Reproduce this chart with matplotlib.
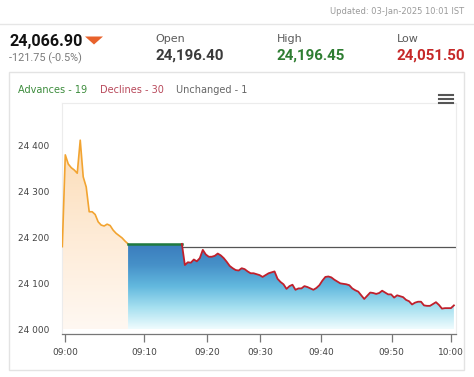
import numpy as np
import matplotlib
matplotlib.use("Agg")
import matplotlib.pyplot as plt
from matplotlib.colors import LinearSegmentedColormap
from matplotlib.patches import PathPatch, Rectangle, Polygon
from matplotlib.lines import Line2D

# ---- data ----
# pre-open session (sample index -1 .. 21)
pre_open = [24180, 24380, 24360, 24352, 24347, 24340, 24412, 24332, 24310, 24256,
            24256, 24250, 24234, 24227, 24225, 24229, 24226, 24216, 24209, 24204,
            24199, 24192, 24186]
pre_start = -1
# flat pre-open close (index 21 .. 39)
flat_idx = [21, 39]
flat_val = [24186, 24186]
# live session (index 39 .. 130)
live = [24186, 24140, 24146, 24145, 24152, 24148, 24155, 24173, 24163, 24158,
        24158, 24160, 24165, 24161, 24155, 24147, 24138, 24133, 24129, 24128,
        24133, 24131, 24126, 24122, 24122, 24120, 24118, 24114, 24118, 24122,
        24124, 24126, 24110, 24103, 24098, 24088, 24094, 24097, 24086, 24089,
        24089, 24094, 24092, 24089, 24086, 24090, 24096, 24106, 24114, 24115,
        24113, 24108, 24104, 24100, 24099, 24098, 24096, 24089, 24085, 24082,
        24074, 24066, 24073, 24080, 24079, 24077, 24079, 24084, 24080, 24076,
        24076, 24069, 24074, 24072, 24070, 24064, 24061, 24054, 24058, 24060,
        24060, 24052, 24051, 24051, 24055, 24059, 24053, 24045, 24046, 24046,
        24046, 24052]
live_start = 39
prev_close_line = 24179

tick_pos = [0, 26.4, 47.5, 65.3, 85.5, 109.2, 129]
tick_lab = ["09:00", "09:10", "09:20", "09:30", "09:40", "09:50", "10:00"]
y_ticks = [24000, 24100, 24200, 24300, 24400]
y_labs = ["24 000", "24 100", "24 200", "24 300", "24 400"]

W, H = 474, 377
fig = plt.figure(figsize=(W / 100, H / 100), dpi=100)
fig.patch.set_facecolor("white")

def fx(px):
    return px / W

def fy(py):
    return 1 - py / H

num_font = ["Roboto", "DejaVu Sans"]

# ---- header ----
fig.text(fx(464), fy(11), "Updated: 03-Jan-2025 10:01 IST", ha="right", va="center",
         fontsize=6.0, color="#9a9a9a")
fig.add_artist(Line2D([0, 1], [fy(24.3), fy(24.3)], transform=fig.transFigure,
                      color="#e6e6e6", lw=1))
fig.text(fx(9), fy(45.7), "24,066.90", ha="left", va="baseline", fontsize=11.6,
         fontweight="bold", color="#111111", family=num_font)
fig.add_artist(Polygon([[fx(85), fy(36.5)], [fx(103), fy(36.5)], [fx(94), fy(44.5)]],
                       closed=True, transform=fig.transFigure, facecolor="#e8622c",
                       edgecolor="none"))
fig.text(fx(9), fy(61), "-121.75 (-0.5%)", ha="left", va="baseline", fontsize=7.8,
         color="#7a7a7a", family=num_font)
heads = [("Open", "24,196.40", "#3a3a3a", 155),
         ("High", "24,196.45", "#2e7d32", 276.7),
         ("Low", "24,051.50", "#c62828", 396.7)]
for lab, val, col, px in heads:
    fig.text(fx(px), fy(41.7), lab, ha="left", va="baseline", fontsize=8,
             color="#5a5a5a")
    fig.text(fx(px), fy(59.3), val, ha="left", va="baseline", fontsize=10.9,
             fontweight="bold", color=col, family=num_font)

# card
fig.add_artist(Rectangle((fx(9), fy(370)), fx(464) - fx(9), fy(72) - fy(370),
                         transform=fig.transFigure, facecolor="none",
                         edgecolor="#e3e3e3", lw=1))
fig.text(fx(18), fy(92.7), "Advances - 19", ha="left", va="baseline", fontsize=7,
         color="#3c8c3c")
fig.text(fx(100), fy(92.7), "Declines - 30", ha="left", va="baseline", fontsize=7,
         color="#b8485a")
fig.text(fx(175.7), fy(92.7), "Unchanged - 1", ha="left", va="baseline", fontsize=7,
         color="#666666")
for py in (95, 99, 103):
    fig.add_artist(Line2D([fx(438.5), fx(453)], [fy(py), fy(py)],
                          transform=fig.transFigure, color="#555555", lw=1.5))

# ---- chart ----
ax = fig.add_axes([fx(62), 1 - 334.3 / H, fx(455.7) - fx(62), (334.3 - 103) / H])
ax.set_facecolor("white")
ymin, ymax = 23989, 24493
xmin, xmax = -1.1, 130.6
base = 24000

x_pre = np.arange(pre_start, pre_start + len(pre_open))
x_live = np.arange(live_start, live_start + len(live))

def grad_fill(xs, ys, colors, top):
    poly = ax.fill_between(xs, ys, base, facecolor="none", edgecolor="none")
    patch = PathPatch(poly.get_paths()[0], facecolor="none", edgecolor="none",
                      transform=ax.transData)
    ax.add_patch(patch)
    cmap = LinearSegmentedColormap.from_list("g", colors)
    grad = np.linspace(0, 1, 256).reshape(-1, 1)
    im = ax.imshow(grad, extent=[xs[0], xs[-1], base, top], origin="lower",
                   aspect="auto", cmap=cmap, zorder=1, interpolation="bilinear")
    im.set_clip_path(patch)

grad_fill(x_pre, pre_open, ["#fff8f2", "#feebd6", "#fcdcb6"], max(pre_open))
blue_x = np.concatenate([flat_idx, x_live[1:]])
blue_y = np.concatenate([flat_val, live[1:]])
grad_fill(blue_x, blue_y, ["#effcfe", "#a6e0f0", "#62b8de", "#4690c8", "#3a7cbd"],
          max(blue_y))

ax.plot(x_pre, pre_open, color="#f2a431", lw=1.2, zorder=3)
ax.plot(flat_idx, flat_val, color="#1f7a3f", lw=1.8, zorder=3)
ax.hlines(prev_close_line, live_start + 0.2, xmax, color="#555555", lw=0.9, zorder=2)
ax.plot(x_live, live, color="#c0202c", lw=1.3, zorder=3)

ax.set_xlim(xmin, xmax)
ax.set_ylim(ymin, ymax)
ax.set_xticks(tick_pos)
ax.set_xticklabels(tick_lab)
ax.set_yticks(y_ticks)
ax.set_yticklabels(y_labs)
ax.tick_params(axis="x", length=5.8, width=0.9, color="#777777", labelsize=6.5,
               labelcolor="#444444", pad=4)
ax.tick_params(axis="y", length=0, labelsize=6.5, labelcolor="#444444", pad=9)
for s in ("left", "top", "right"):
    ax.spines[s].set_color("#ececec")
    ax.spines[s].set_linewidth(0.8)
ax.spines["bottom"].set_color("#777777")
ax.spines["bottom"].set_linewidth(0.9)

fig.savefig("out.png", dpi=100)
